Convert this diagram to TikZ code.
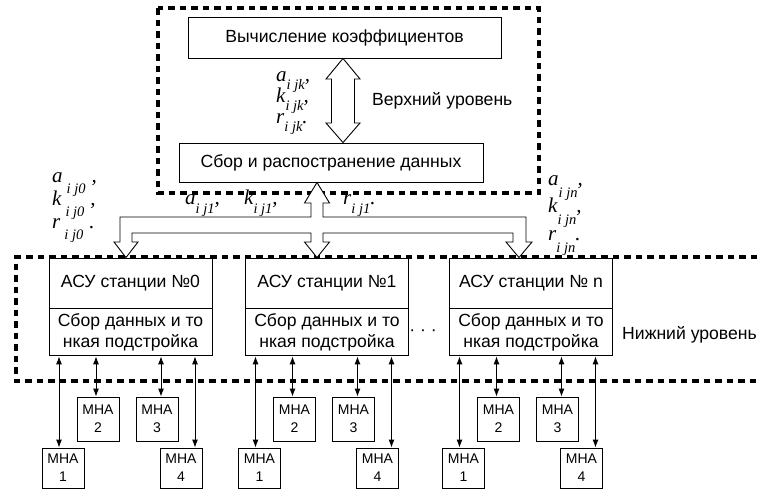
\documentclass[tikz,border=0pt]{standalone}
\usepackage{fontspec}
\setmainfont{Liberation Sans}
\newfontfamily\serit{Liberation Serif}
\usetikzlibrary{arrows.meta}
% letter, subscript, punctuation, lowering of the subscript
\newcommand{\cf}[4]{{\serit\itshape\fontsize{21}{23}\selectfont #1}%
  \smash{\raisebox{-#4pt}{\serit\itshape\fontsize{14.5}{16}\selectfont #2}}%
  {\serit\itshape\fontsize{21}{23}\selectfont #3}}

\begin{document}
\begin{tikzpicture}[x=1pt,y=-1pt,
    box/.style={draw,line width=0.9pt,fill=white,inner sep=0pt,font=\fontsize{17.6}{21}\selectfont},
    mna/.style={draw,line width=0.9pt,fill=white,inner sep=0pt,minimum width=42pt,align=center,font=\fontsize{14}{18}\selectfont},
    lvl/.style={inner sep=0pt,anchor=west,font=\fontsize{17.6}{21}\selectfont},
    levelframe/.style={line width=3.3pt,dash pattern=on 6.5pt off 5pt},
    pipe/.style={draw,line width=0.9pt,fill=white,line join=miter},
    link/.style={line width=0.9pt,{Latex[length=8pt,width=6pt]}-{Latex[length=8pt,width=6pt]}},
    coef/.style={inner sep=0pt,anchor=base west}]
  \useasboundingbox (0,0) rectangle (757,490);

  % upper level
  \node[box,minimum width=313pt,minimum height=41pt] (calc) at (344.5,37.5) {Вычисление коэффициентов};
  \node[box,minimum width=304pt,minimum height=39pt] (sbor) at (331,162.5) {Сбор и распостранение данных};
  \node[lvl] (upper) at (372,101) {Верхний уровень};

  % stations
  \foreach \n/\x/\lab in {0/130.5/№0, 1/327/№1, n/531/№ n}{
    \node[box,minimum width=163pt,minimum height=50pt] (st\n) at (\x,283) {АСУ станции \lab};
    \node[box,minimum width=163pt,minimum height=47pt,align=center,anchor=north] (sb\n) at (st\n.south) {Сбор данных и то\\нкая подстройка};
    \node[mna,minimum height=40pt] (m\n1) at (\x-67.5,468) {МНА\\1};
    \node[mna,minimum height=44pt] (m\n2) at (\x-32.5,419) {МНА\\2};
    \node[mna,minimum height=44pt] (m\n3) at (\x+26.5,419) {МНА\\3};
    \node[mna,minimum height=40pt] (m\n4) at (\x+50.5,468) {МНА\\4};
    \coordinate (a\n1) at (\x-71.5,0);
    \coordinate (a\n2) at (\x-34.5,0);
    \coordinate (a\n3) at (\x+30.5,0);
    \coordinate (a\n4) at (\x+64.5,0);
  }
  \node[lvl,anchor=center] (dots) at (423,333) {· · ·};
  \node[lvl] (lower) at (622,335) {Нижний уровень};

  % level frames
  \draw[levelframe] (158,8) rectangle (539,193);
  \draw[levelframe] (757,257) -- (16,257) -- (16,381) -- (757,381);

  % coefficients
  \node[coef] (ka) at (276,81) {\cf{a}{i jk}{,}{8}};
  \node[coef] (kk) at (276,102) {\cf{k}{i jk}{,}{8}};
  \node[coef] (kr) at (276,123) {\cf{r}{i jk}{.}{8}};
  \node[coef] (c0a) at (52,182) {\cf{a\kern4pt}{i j0}{\kern6pt,}{11}};
  \node[coef] (c0k) at (52,205) {\cf{k\kern4pt}{i j0}{\kern6pt,}{11}};
  \node[coef] (c0r) at (52,228) {\cf{r\kern4pt}{i j0}{\kern6pt.}{11}};
  \node[coef] (c1a) at (185,204) {\cf{a}{i j1}{,}{9}};
  \node[coef] (c1k) at (244,204) {\cf{k}{i j1}{,}{9}};
  \node[coef] (c1r) at (343,204) {\cf{r}{i j1}{.}{9}};
  \node[coef] (cna) at (548,185) {\cf{a}{i jn}{,}{12}};
  \node[coef] (cnk) at (548,212) {\cf{k}{i jn}{,}{12}};
  \node[coef] (cnr) at (548,240) {\cf{r}{i jn}{.}{12}};

  % hollow arrows
  \draw[pipe] (calc.south -| 343,0) -- (360,79) -- (354.5,79) -- (354.5,123) -- (360,123)
    -- (sbor.north -| 343,0) -- (326,123) -- (331.5,123) -- (331.5,79) -- (326,79) -- cycle;
  \draw[pipe] (sbor.south -| 317,0) -- (329.5,203) -- (323,203) -- (323,217) -- (526,217) -- (526,242)
    -- (532,242) -- (stn.north -| 519,0) -- (506,242) -- (513,242) -- (513,233) -- (323,233) -- (323,242)
    -- (329.5,242) -- (st1.north -| 317,0) -- (304.5,242) -- (311,242) -- (311,233) -- (132,233)
    -- (132,242) -- (138,242) -- (st0.north -| 126,0) -- (114,242) -- (120,242) -- (120,217)
    -- (311,217) -- (311,203) -- (304.5,203) -- cycle;

  % station to MNA links
  \foreach \n in {0,1,n}{
    \foreach \k in {1,2,3,4}
      \draw[link] (sb\n.south -| a\n\k) -- (m\n\k.north -| a\n\k);
  }
\end{tikzpicture}
\end{document}
